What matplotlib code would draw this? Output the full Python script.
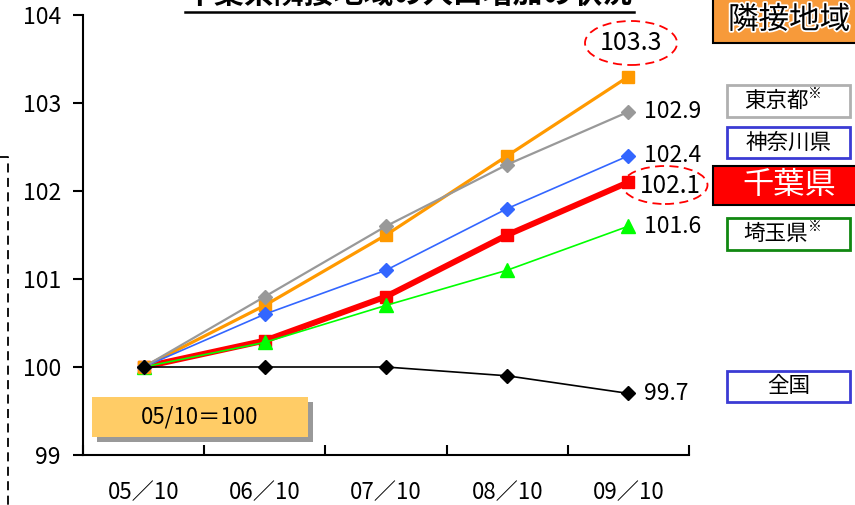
import matplotlib
matplotlib.use("Agg")
import matplotlib.pyplot as plt
from matplotlib.patches import Rectangle, Ellipse
from matplotlib.lines import Line2D
import matplotlib.patheffects as pe

plt.rcParams['font.family'] = ['Noto Sans CJK JP', 'DejaVu Sans']

# Population index, 05/10 = 100
periods = ["05／10", "06／10", "07／10", "08／10", "09／10"]
rinsetsu = [100.0, 100.7, 101.5, 102.4, 103.3]   # 隣接地域
tokyo = [100.0, 100.8, 101.6, 102.3, 102.9]      # 東京都
kanagawa = [100.0, 100.6, 101.1, 101.8, 102.4]   # 神奈川県
chiba = [100.0, 100.3, 100.8, 101.5, 102.1]      # 千葉県
saitama = [100.0, 100.28, 100.7, 101.1, 101.6]   # 埼玉県
zenkoku = [100.0, 100.0, 100.0, 99.9, 99.7]      # 全国
y_ticks = [99, 100, 101, 102, 103, 104]

W, H = 855, 505
fig = plt.figure(figsize=(W / 100, H / 100), dpi=100)


def fx(px):
    return px / W


def fy(py):
    return 1 - py / H


ax = fig.add_axes([fx(83), fy(455), fx(689) - fx(83), fy(15) - fy(455)])
xs = list(range(len(periods)))

series = [
    (chiba, "#FF0000", "s", 4.3, 9, 3),
    (saitama, "#00FF00", "^", 1.2, 10, 4),
    (rinsetsu, "#FF9900", "s", 2.3, 8, 5),
    (kanagawa, "#3366FF", "D", 1.2, 7, 6),
    (tokyo, "#999999", "D", 1.6, 7, 7),
    (zenkoku, "#000000", "D", 1.2, 7, 8),
]
for vals, col, mk, lw, ms, z in series:
    ax.plot(xs, vals, color=col, marker=mk, lw=lw, ms=ms, mec=col, mfc=col,
            zorder=z, clip_on=False)

ax.set_xlim(-0.5, len(periods) - 0.5)
ax.set_ylim(99, 104)
ax.set_yticks(y_ticks)
ax.set_yticklabels([str(v) for v in y_ticks])
ax.set_xticks([i - 0.5 for i in range(len(periods) + 1)])
ax.set_xticklabels([])
ax.set_xticks(xs, minor=True)
ax.set_xticklabels(periods, minor=True)
ax.tick_params(axis="x", which="major", direction="in", length=7, width=1.5)
ax.tick_params(axis="x", which="minor", length=0, pad=19, labelsize=16)
ax.tick_params(axis="y", direction="out", length=7, width=1.5, pad=9,
               labelsize=16.5)
for s in ("top", "right"):
    ax.spines[s].set_visible(False)
for s in ("left", "bottom"):
    ax.spines[s].set_linewidth(1.5)

# value labels at the last period
for vals in (tokyo, kanagawa, saitama, zenkoku):
    ax.annotate(f"{vals[-1]:.1f}", xy=(xs[-1], vals[-1]), xytext=(11, 0),
                textcoords="offset points", ha="left", va="center",
                fontsize=16.5, zorder=10, annotation_clip=False)
ax.annotate(f"{chiba[-1]:.1f}", xy=(xs[-1], chiba[-1]), xytext=(8, -3),
            textcoords="offset points", ha="left", va="center",
            fontsize=17.5, zorder=10, annotation_clip=False)
ax.annotate(f"{rinsetsu[-1]:.1f}", xy=(xs[-1], rinsetsu[-1]), xytext=(2, 24),
            textcoords="offset points", ha="center", va="center",
            fontsize=18, zorder=10, annotation_clip=False)

# red dashed ellipses round highlighted values
for cx, cy, w, h in [(631, 43, 92, 44), (665, 185, 85, 38)]:
    fig.patches.append(Ellipse((fx(cx), fy(cy)), w / W, h / H,
                               transform=fig.transFigure, fill=False,
                               ec="#FF0000", lw=1.3, ls=(0, (5, 3)),
                               zorder=3))

# title (partly above the top edge)
fig.text(fx(409), fy(9), "千葉県隣接地域の人口増加の状況", ha="center",
         va="bottom", fontsize=21.5, color="black", fontweight="bold")
fig.add_artist(Line2D([fx(185), fx(634)], [fy(11.5), fy(11.5)],
                      transform=fig.transFigure, color="black", lw=1.8))


def box(x0, y0, x1, y1, fc, ec, lw=1.5, z=4):
    fig.patches.append(Rectangle((fx(x0), fy(y1)), fx(x1) - fx(x0),
                                 fy(y0) - fy(y1), transform=fig.transFigure,
                                 fc=fc, ec=ec, lw=lw, zorder=z))


# series key boxes on the right
box(713, -5, 870, 43, "#F79A3A", "black")
fig.text(fx(789), fy(20), "隣接地域", ha="center", va="center", fontsize=22,
         color="black", zorder=6,
         path_effects=[pe.withStroke(linewidth=2.5, foreground="white")])

box(727, 85, 850, 117, "white", "#B0B0B0", lw=2)
fig.text(fx(776), fy(101), "東京都", ha="center", va="center", fontsize=15.5,
         zorder=6)
fig.text(fx(808), fy(94), "※", ha="left", va="center", fontsize=10, zorder=6)

box(727, 127, 850, 158, "white", "#3B3BD4", lw=2)
fig.text(fx(788.5), fy(142.5), "神奈川県", ha="center", va="center",
         fontsize=15.5, zorder=6)

box(713, 166, 870, 205, "#FF0000", "black")
fig.text(fx(789), fy(185), "千葉県", ha="center", va="center", fontsize=22.5,
         color="white", zorder=6)

box(727, 218, 850, 250, "white", "#118811", lw=2)
fig.text(fx(776), fy(234), "埼玉県", ha="center", va="center", fontsize=15.5,
         zorder=6)
fig.text(fx(808), fy(227), "※", ha="left", va="center", fontsize=10, zorder=6)

box(727, 371, 850, 402, "white", "#3B3BD4", lw=2)
fig.text(fx(788.5), fy(386.5), "全国", ha="center", va="center",
         fontsize=15.5, zorder=6)

# base-period note with drop shadow
box(97, 402, 313, 442, "#999999", "none", lw=0, z=4)
box(92, 397, 308, 437, "#FFCC66", "none", lw=0, z=5)
fig.text(fx(200), fy(417), "05/10＝100", ha="center", va="center",
         fontsize=16, zorder=6)

# dashed bracket on the far left
fig.add_artist(Line2D([fx(0), fx(8), fx(8)], [fy(157), fy(157), fy(510)],
                      transform=fig.transFigure, color="black", lw=1.3,
                      ls=(0, (5, 3))))

fig.savefig("out.png", dpi=100)
